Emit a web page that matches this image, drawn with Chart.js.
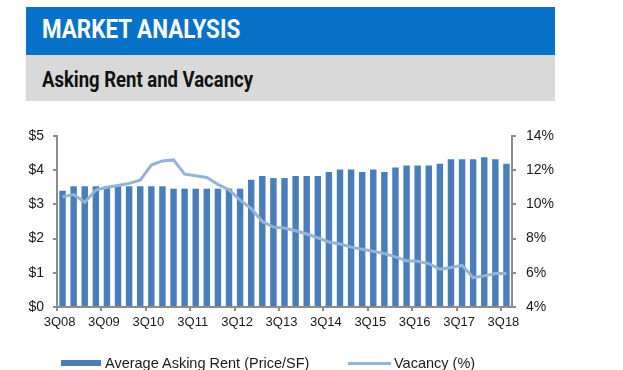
<!DOCTYPE html>
<html>
<head>
<meta charset="utf-8">
<script src="https://cdn.jsdelivr.net/npm/chart.js@4.4.1/dist/chart.umd.min.js"></script>
<style>
  html, body { margin: 0; padding: 0; background: #fff; }
  body { width: 623px; height: 370px; position: relative; overflow: hidden; }
  #band1 { position: absolute; left: 26px; top: 7px; width: 529px; height: 48px; background: #0872C9; }
  #band2 { position: absolute; left: 26px; top: 55px; width: 529px; height: 46px; background: #D9D9D9; }
  .hd { position: absolute; left: 42px; font-family: Roboto, "Liberation Sans", sans-serif; font-weight: 700;
        line-height: 1; white-space: nowrap; transform-origin: 0 0; }
  #title { top: 17px; font-size: 25px; color: #fff; }
  #subtitle { top: 69px; font-size: 22px; color: #111; }
  #chartBox { position: absolute; left: 0; top: 110px; width: 623px; height: 260px; }
  #legend { position: absolute; left: 0; top: 354px; width: 623px; height: 18px;
            font-family: "Liberation Sans", Arial, sans-serif; font-size: 14.5px; color: #1a1a1a; }
  .lg-item { position: absolute; top: 0; height: 18px; }
  .lg-sw { position: absolute; }
  .lg-tx { position: absolute; top: 0; line-height: 18px; white-space: nowrap; }
</style>
</head>
<body>
<div id="band1"></div>
<div id="band2"></div>
<span class="hd" id="title">MARKET ANALYSIS</span>
<span class="hd" id="subtitle">Asking Rent and Vacancy</span>
<div id="chartBox"><canvas id="c" width="623" height="260"></canvas></div>
<div id="legend"></div>
<script>
// ---- data ----
const quarters = [
  '3Q08','4Q08','1Q09','2Q09','3Q09','4Q09','1Q10','2Q10','3Q10','4Q10',
  '1Q11','2Q11','3Q11','4Q11','1Q12','2Q12','3Q12','4Q12','1Q13','2Q13',
  '3Q13','4Q13','1Q14','2Q14','3Q14','4Q14','1Q15','2Q15','3Q15','4Q15',
  '1Q16','2Q16','3Q16','4Q16','1Q17','2Q17','3Q17','4Q17','1Q18','2Q18','3Q18'
];
const askingRent = [
  3.40, 3.53, 3.53, 3.53, 3.53, 3.53, 3.53, 3.53, 3.53, 3.53,
  3.46, 3.46, 3.46, 3.46, 3.46, 3.46, 3.46, 3.72, 3.83, 3.77,
  3.77, 3.83, 3.83, 3.83, 3.95, 4.02, 4.02, 3.95, 4.02, 3.95,
  4.08, 4.14, 4.14, 4.14, 4.19, 4.32, 4.32, 4.32, 4.38, 4.32, 4.19
];
const vacancy = [
  10.44, 10.58, 10.12, 10.84, 11.00, 11.11, 11.23, 11.42, 12.30, 12.54,
  12.60, 11.77, 11.68, 11.57, 11.17, 10.85, 10.25, 9.76, 9.00, 8.67,
  8.62, 8.46, 8.27, 8.05, 7.80, 7.68, 7.50, 7.38, 7.26, 7.13,
  6.93, 6.70, 6.68, 6.54, 6.21, 6.31, 6.44, 5.72, 5.82, 5.96, 5.96
];
const rentTicks = [0, 1, 2, 3, 4, 5];
const vacancyTicks = [4, 6, 8, 10, 12, 14];
const seriesNames = ['Average Asking Rent (Price/SF)', 'Vacancy (%)'];

// ---- header text fitting ----
function fitWidth(id, target) {
  const el = document.getElementById(id);
  const w = el.offsetWidth;
  if (w > 0) el.style.transform = 'scaleX(' + (target / w) + ')';
}
fitWidth('title', 198);
fitWidth('subtitle', 211);

// ---- chart ----
const axisGray = '#8c8c8c';
const textColor = '#1a1a1a';
const barColor = '#4A7EBB';
const lineColor = '#95B3D7';

const chart = new Chart(document.getElementById('c'), {
  data: {
    labels: quarters,
    datasets: [
      {
        type: 'bar',
        label: seriesNames[0],
        data: askingRent,
        yAxisID: 'y',
        backgroundColor: barColor,
        borderWidth: 0,
        categoryPercentage: 1.0,
        barPercentage: 0.58,
        order: 2
      },
      {
        type: 'line',
        label: seriesNames[1],
        data: vacancy,
        yAxisID: 'y1',
        borderColor: lineColor,
        backgroundColor: lineColor,
        borderWidth: 3,
        pointRadius: 0,
        tension: 0,
        order: 1
      }
    ]
  },
  options: {
    responsive: false,
    animation: false,
    devicePixelRatio: 1,
    layout: { padding: { top: 26, left: 0, right: 0, bottom: 0 } },
    plugins: { legend: { display: false }, tooltip: { enabled: false } },
    scales: {
      x: {
        type: 'category',
        offset: true,
        grid: {
          offset: true,
          drawOnChartArea: false,
          tickLength: 4,
          lineWidth: 2,
          color: (ctx) => (ctx.index % 4 === 0 ? axisGray : 'rgba(0,0,0,0)'),
          tickColor: (ctx) => (ctx.index % 4 === 0 ? axisGray : 'rgba(0,0,0,0)')
        },
        border: { display: true, color: axisGray, width: 2 },
        ticks: {
          autoSkip: false,
          maxRotation: 0,
          minRotation: 0,
          labelOffset: -3,
          padding: 4,
          color: textColor,
          font: { family: '"Liberation Sans", Arial, sans-serif', size: 13 },
          callback: function (v, i) { return i % 4 === 0 ? quarters[i] : ''; }
        },
        afterFit: (s) => { s.height = 63; }
      },
      y: {
        position: 'left',
        min: rentTicks[0],
        max: rentTicks[rentTicks.length - 1],
        afterBuildTicks: (s) => { s.ticks = rentTicks.map(v => ({ value: v })); },
        grid: { drawOnChartArea: false, tickLength: 4, lineWidth: 2, color: axisGray, tickColor: axisGray },
        border: { display: true, color: axisGray, width: 2 },
        ticks: {
          padding: 9,
          color: textColor,
          font: { family: '"Liberation Sans", Arial, sans-serif', size: 14 },
          callback: (v) => '$' + v
        },
        afterFit: (s) => { s.width = 57; }
      },
      y1: {
        position: 'right',
        min: vacancyTicks[0],
        max: vacancyTicks[vacancyTicks.length - 1],
        afterBuildTicks: (s) => { s.ticks = vacancyTicks.map(v => ({ value: v })); },
        grid: { drawOnChartArea: false, tickLength: 4, lineWidth: 2, color: axisGray, tickColor: axisGray },
        border: { display: true, color: axisGray, width: 2 },
        ticks: {
          padding: 10,
          color: textColor,
          font: { family: '"Liberation Sans", Arial, sans-serif', size: 14 },
          callback: (v) => v + '%'
        },
        afterFit: (s) => { s.width = 111; }
      }
    }
  }
});

// ---- HTML legend built from the chart's own legend items ----
(function buildLegend() {
  const items = Chart.defaults.plugins.legend.labels.generateLabels(chart)
    .sort((a, b) => a.datasetIndex - b.datasetIndex);
  const host = document.getElementById('legend');
  const layout = [
    { swLeft: 61, swW: 40, swH: 6, txLeft: 105 },
    { swLeft: 348, swW: 43, swH: 3, txLeft: 394 }
  ];
  items.forEach((it, i) => {
    const L = layout[i];
    const sw = document.createElement('div');
    sw.className = 'lg-sw';
    const ds = chart.data.datasets[it.datasetIndex];
    sw.style.left = L.swLeft + 'px';
    sw.style.width = L.swW + 'px';
    sw.style.height = L.swH + 'px';
    sw.style.top = (9 - L.swH / 2) + 'px';
    sw.style.background = ds.type === 'line' ? ds.borderColor : ds.backgroundColor;
    const tx = document.createElement('div');
    tx.className = 'lg-tx';
    tx.style.left = L.txLeft + 'px';
    tx.textContent = it.text;
    host.appendChild(sw);
    host.appendChild(tx);
  });
})();
</script>
</body>
</html>
